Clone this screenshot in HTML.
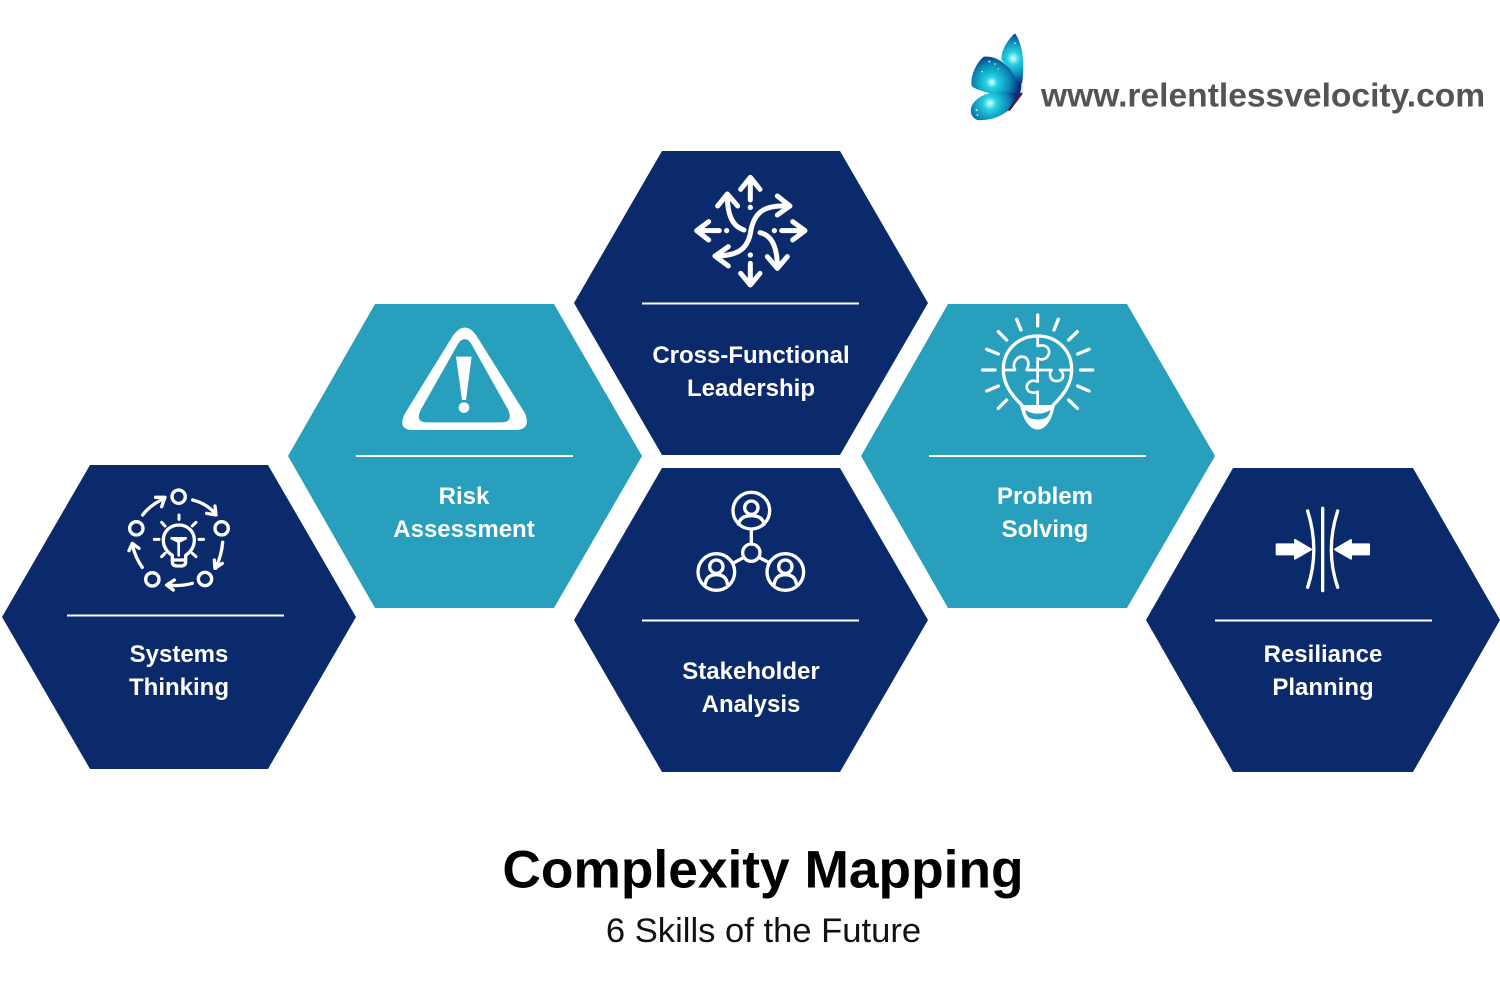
<!DOCTYPE html>
<html><head><meta charset="utf-8"><style>
html,body{margin:0;padding:0;background:#fff;width:1500px;height:1000px;overflow:hidden}
svg{display:block}
text{font-family:"Liberation Sans",sans-serif}
.l{font-size:24px;font-weight:700;fill:#fff;text-anchor:middle}
.w{fill:none;stroke:#fff;stroke-linecap:round;stroke-linejoin:round}
</style></head><body>
<svg width="1500" height="1000" viewBox="0 0 1500 1000" xmlns="http://www.w3.org/2000/svg">
<defs>
<radialGradient id="g1" gradientUnits="userSpaceOnUse" cx="160" cy="100" r="80"><stop offset="0" stop-color="#d8ffff"/><stop offset="0.25" stop-color="#25cfe0"/><stop offset="0.65" stop-color="#0a86b5"/><stop offset="1" stop-color="#0b2c78"/></radialGradient>
<radialGradient id="g2" gradientUnits="userSpaceOnUse" cx="95" cy="172" r="85"><stop offset="0" stop-color="#e8ffff"/><stop offset="0.2" stop-color="#22d4e4"/><stop offset="0.65" stop-color="#0a86b5"/><stop offset="1" stop-color="#0b2c78"/></radialGradient>
<radialGradient id="g3" gradientUnits="userSpaceOnUse" cx="90" cy="235" r="80"><stop offset="0" stop-color="#d8ffff"/><stop offset="0.25" stop-color="#25cfe0"/><stop offset="0.7" stop-color="#0a86b5"/><stop offset="1" stop-color="#0b2c78"/></radialGradient>
</defs>
<polygon points="90,465 268,465 356,617 268,769 90,769 2,617" fill="#0a2a6c"/>
<polygon points="375,304 554,304 642,456 554,608 375,608 288,456" fill="#279fbd"/>
<polygon points="662,151 840,151 928,303 840,455 662,455 574,303" fill="#0a2a6c"/>
<polygon points="662,468 840,468 928,620 840,772 662,772 574,620" fill="#0a2a6c"/>
<polygon points="948,304 1127,304 1215,456 1127,608 948,608 861,456" fill="#279fbd"/>
<polygon points="1233,468 1413,468 1500,620 1413,772 1233,772 1146,620" fill="#0a2a6c"/>
<g stroke="#fff" stroke-width="2">
<line x1="67" y1="615.5" x2="284" y2="615.5"/>
<line x1="356" y1="456" x2="573" y2="456"/>
<line x1="642" y1="303.5" x2="859" y2="303.5"/>
<line x1="642" y1="620.5" x2="859" y2="620.5"/>
<line x1="929" y1="456" x2="1146" y2="456"/>
<line x1="1215" y1="620.5" x2="1432" y2="620.5"/>
</g>
<text class="l" x="179" y="662">Systems</text><text class="l" x="179" y="695">Thinking</text>
<text class="l" x="464" y="504">Risk</text><text class="l" x="464" y="537">Assessment</text>
<text class="l" x="751" y="363">Cross-Functional</text><text class="l" x="751" y="396">Leadership</text>
<text class="l" x="751" y="679">Stakeholder</text><text class="l" x="751" y="712">Analysis</text>
<text class="l" x="1045" y="504">Problem</text><text class="l" x="1045" y="537">Solving</text>
<text class="l" x="1323" y="662">Resiliance</text><text class="l" x="1323" y="695">Planning</text>
<text x="763" y="887.5" font-size="53.3" font-weight="700" text-anchor="middle" fill="#000">Complexity Mapping</text>
<text x="763.5" y="942" font-size="34.6" text-anchor="middle" fill="#111">6 Skills of the Future</text>
<text x="1041" y="106.5" font-size="33.6" font-weight="700" fill="#545454">www.relentlessvelocity.com</text>

<!-- cross icon -->
<g transform="translate(670,160) scale(.3333)">
<g class="w" stroke-width="15">
<path d="M241,120V52M212,88L241,52L270,88"/>
<path d="M241,310V375M212,340L241,375L270,340"/>
<path d="M148,212H80M116,185L80,212L116,240"/>
<path d="M335,212H405M368,185L405,212L368,240"/>
<path d="M358,138C290,135 255,150 243,210C235,270 200,288 135,288"/>
<path d="M322,108L360,138L322,165M175,260L135,288L175,318"/>
<path d="M222,210C190,200 172,170 172,105M143,138L172,102L203,138"/>
<path d="M270,218C305,225 322,260 322,322M292,290L322,325L352,290"/>
</g>
<g fill="#fff"><circle cx="241" cy="142" r="8"/><circle cx="241" cy="285" r="8"/><circle cx="170" cy="212" r="8"/><circle cx="313" cy="212" r="8"/></g>
</g>

<!-- risk icon -->
<g transform="translate(390,315) scale(.3333)">
<path fill="#fff" fill-rule="evenodd" d="M190,60Q225,15 258,60L405,295Q425,345 375,345L70,345Q20,345 45,295ZM205,85Q225,60 243,85L355,285Q370,322 335,322L110,322Q75,322 92,285Z"/>
<polygon fill="#fff" points="198,125 245,125 228,255 216,255"/>
<circle fill="#fff" cx="222" cy="278" r="16"/>
</g>

<!-- puzzle bulb -->
<g transform="translate(970,310) scale(.3333)">
<g class="w" stroke-width="10">
<path d="M203,15V48M140,28L153,60M265,28L252,60M85,65L110,90M322,65L296,90M50,118L85,132M357,118L323,132M38,180H75M368,180H332M50,243L85,228M357,243L323,228M85,295L110,270M322,295L296,270"/>
</g>
<g class="w" stroke-width="8">
<path stroke-width="10" d="M155,285C120,250 100,220 100,178C100,120 145,78 203,78C260,78 305,120 305,178C305,220 285,250 250,285"/>
<path d="M203,80V108C235,100 245,125 232,140C225,150 210,150 203,145V215C180,205 165,225 172,238C178,250 195,250 203,245V285"/>
<path d="M103,180H135C125,160 140,138 160,140C178,145 178,165 170,180H245C235,190 240,215 262,213C285,210 282,190 270,180H302"/>
</g>
<path fill="#fff" d="M150,285H255Q245,335 222,352Q203,365 184,352Q160,335 150,285Z"/>
<path fill="#279fbd" d="M165,300Q203,322 242,300Q237,316 230,322Q203,335 176,322Q169,316 165,300Z"/>
</g>

<!-- systems icon -->
<g transform="translate(115,480) scale(.3333)">
<g class="w" stroke-width="10">
<circle cx="191" cy="50" r="20"/><circle cx="64" cy="145" r="20"/><circle cx="320" cy="145" r="20"/><circle cx="112" cy="298" r="20"/><circle cx="270" cy="297" r="20"/>
<path d="M83,105Q105,75 148,55M122,52L150,52L140,80"/>
<path d="M233,60Q275,70 303,103M300,78L303,105L275,100"/>
<path d="M323,187Q320,225 302,265M298,240L300,265L322,250"/>
<path d="M232,310Q195,320 158,315M178,300L155,315L175,330"/>
<path d="M82,262Q62,235 52,195M42,212L52,190L72,205"/>
<path d="M172,226C155,215 145,200 145,180C145,155 165,135 192,135C218,135 238,155 238,180C238,200 228,215 212,226V245Q212,258 198,258H186Q172,258 172,245Z"/>
<path d="M172,240H212"/>
<path stroke-width="8" d="M170,175L186,183M212,175L196,183M191,183V226M170,175L212,175"/>
<path stroke-width="9" d="M192,105V118M140,127L150,138M243,127L232,138M118,178H132M252,178H266M140,230L150,220M243,230L232,220"/>
</g>
</g>

<!-- stakeholder icon -->
<g transform="translate(690,485) scale(.3333)">
<g class="w" stroke-width="10">
<circle cx="184" cy="77" r="55"/><circle cx="79" cy="261" r="55"/><circle cx="286" cy="261" r="55"/><circle cx="184" cy="203" r="26"/>
<path d="M184,133V177M160,218L132,233M208,218L238,233"/>
<circle cx="184" cy="68" r="20"/><path d="M146,118Q150,92 184,92Q218,92 222,118"/>
<circle cx="79" cy="245" r="20"/><path d="M46,296Q50,269 79,269Q108,269 112,296"/>
<circle cx="286" cy="245" r="20"/><path d="M253,296Q257,269 286,269Q315,269 319,296"/>
</g>
</g>

<!-- resilience icon -->
<g transform="translate(1265,500) scale(.3333)">
<g class="w" stroke-width="10">
<path d="M173,25V272M128,33Q165,150 128,262M218,33Q180,150 218,262"/>
</g>
<path fill="#fff" stroke="#fff" stroke-width="6" stroke-linejoin="round" d="M35,133H90V120L138,148L90,176V163H35Z"/>
<path fill="#fff" stroke="#fff" stroke-width="6" stroke-linejoin="round" d="M312,133H258V120L210,148L258,176V163H312Z"/>
</g>

<!-- butterfly -->
<g transform="translate(960,25) scale(.3333)">
<path fill="url(#g1)" d="M165,25C145,42 122,75 125,105C150,130 170,165 180,205C195,150 195,65 165,25Z"/>
<path fill="url(#g2)" d="M72,95C48,112 28,160 36,185C70,205 130,215 182,215C178,160 135,90 72,95Z"/>
<path fill="url(#g3)" d="M48,226C25,245 28,275 52,285C115,290 165,250 182,208C130,195 75,198 48,226Z"/>
<g fill="#fff" opacity=".85"><circle cx="88" cy="110" r="3"/><circle cx="105" cy="117" r="2.5"/><circle cx="66" cy="140" r="2.5"/><circle cx="115" cy="132" r="2"/><circle cx="165" cy="55" r="2.5"/><circle cx="50" cy="255" r="3"/><circle cx="52" cy="270" r="2.5"/></g>
<path d="M148,254L185,205" stroke="#4a1a35" stroke-width="7" stroke-linecap="round" fill="none"/>
<path d="M186,175L187,205" stroke="#d8e2e8" stroke-width="5" fill="none"/>
</g>
</svg>
</body></html>
